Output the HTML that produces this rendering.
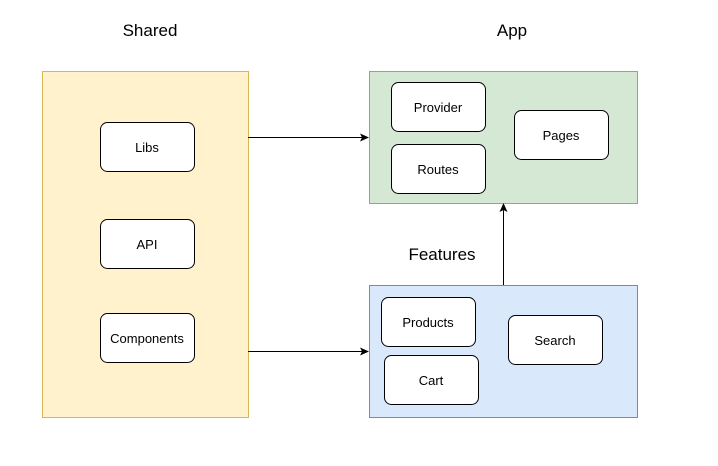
<!DOCTYPE html>
<html><head><style>body{margin:0;background:#fff}</style></head><body>
<svg width="718" height="461" xmlns="http://www.w3.org/2000/svg" font-family="Liberation Sans, Arial, sans-serif">
<defs><marker id="a" markerWidth="10" markerHeight="10" refX="8" refY="4" orient="auto" markerUnits="userSpaceOnUse"><path d="M0,0 L9,4 L0,8 L2,4 Z" fill="#000"/></marker></defs>
<text x="150" y="36" font-size="17" text-anchor="middle">Shared</text>
<text x="512" y="36" font-size="17" text-anchor="middle">App</text>
<text x="442" y="260" font-size="17" text-anchor="middle">Features</text>
<rect x="42.5" y="71.5" width="206" height="346" fill="#fff2cc" stroke="#d6b656"/>
<rect x="369.5" y="71.5" width="268" height="132" fill="#d5e8d4" stroke="#82b366"/>
<rect x="369.5" y="285.5" width="268" height="132" fill="#dae8fc" stroke="#6c8ebf"/>
<g fill="#fff" stroke="#000">
<rect x="100.5" y="122.5" width="94" height="49" rx="7"/>
<rect x="100.5" y="219.5" width="94" height="49" rx="7"/>
<rect x="100.5" y="313.5" width="94" height="49" rx="7"/>
<rect x="391.5" y="82.5" width="94" height="49" rx="7"/>
<rect x="391.5" y="144.5" width="94" height="49" rx="7"/>
<rect x="514.5" y="110.5" width="94" height="49" rx="7"/>
<rect x="381.5" y="297.5" width="94" height="49" rx="7"/>
<rect x="384.5" y="355.5" width="94" height="49" rx="7"/>
<rect x="508.5" y="315.5" width="94" height="49" rx="7"/>
</g>
<g font-size="13" text-anchor="middle">
<text x="147" y="152">Libs</text>
<text x="147" y="249">API</text>
<text x="147" y="343">Components</text>
<text x="438" y="112">Provider</text>
<text x="438" y="174">Routes</text>
<text x="561" y="140">Pages</text>
<text x="428" y="327">Products</text>
<text x="431" y="385">Cart</text>
<text x="555" y="345">Search</text>
</g>
<g stroke="#000" fill="none">
<line x1="248" y1="137.5" x2="368" y2="137.5" marker-end="url(#a)"/>
<line x1="248" y1="351.5" x2="368" y2="351.5" marker-end="url(#a)"/>
<line x1="503.5" y1="285" x2="503.5" y2="204" marker-end="url(#a)"/>
</g>
</svg>
</body></html>
